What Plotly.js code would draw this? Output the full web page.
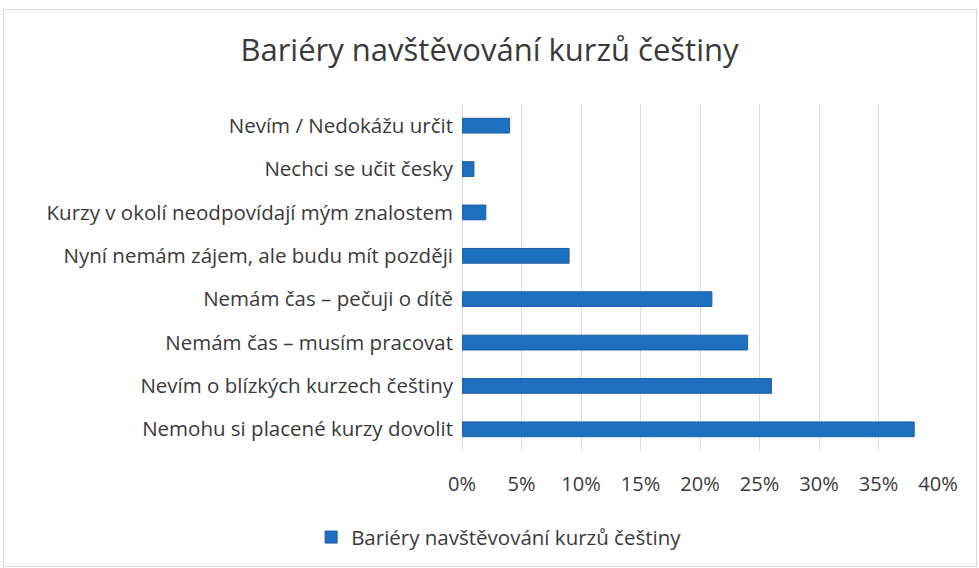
<!DOCTYPE html>
<html>
<head>
<meta charset="utf-8">
<script src="https://cdn.plot.ly/plotly-3.0.1.min.js"></script>
<style>
html,body{margin:0;padding:0;background:#fff;}
#wrap{position:relative;width:979px;height:568px;}
#chart{width:979px;height:568px;}
#frame{position:absolute;left:3px;top:9px;width:972px;height:556px;border:1px solid #d9d9d9;pointer-events:none;}
</style>
</head>
<body>
<div id="wrap"><div id="chart"></div><div id="frame"></div></div>
<script>
const chartTitle = "Bariéry navštěvování kurzů češtiny";
const seriesName = "Bariéry navštěvování kurzů češtiny";
// bottom to top
const categories = [
  "Nemohu si placené kurzy dovolit",
  "Nevím o blízkých kurzech češtiny",
  "Nemám čas – musím pracovat",
  "Nemám čas – pečuji o dítě",
  "Nyní nemám zájem, ale budu mít později",
  "Kurzy v okolí neodpovídají mým znalostem",
  "Nechci se učit česky",
  "Nevím / Nedokážu určit"
];
const values = [0.38, 0.26, 0.24, 0.21, 0.09, 0.02, 0.01, 0.04];
const tickVals = [0, 0.05, 0.10, 0.15, 0.20, 0.25, 0.30, 0.35, 0.40];
const tickText = ["0%", "5%", "10%", "15%", "20%", "25%", "30%", "35%", "40%"];

const font = "'Open Sans', 'Noto Sans', sans-serif";
const txt = "#3a3a3a";

const trace = {
  type: "bar",
  orientation: "h",
  y: categories,
  x: values,
  name: seriesName,
  marker: {color: "#1F6FBF", line: {color: "#1A5EA8", width: 1}},
  showlegend: true,
  hoverinfo: "x+y"
};

const layout = {
  width: 979, height: 568,
  margin: {l: 462, r: 41, t: 104, b: 116, pad: 0},
  paper_bgcolor: "#ffffff",
  plot_bgcolor: "#ffffff",
  font: {family: font, color: txt, size: 20},
  title: {
    text: chartTitle,
    font: {family: font, size: 31, color: txt},
    x: 0.5, xanchor: "center", xref: "container",
    y: 0.912, yanchor: "middle", yref: "container"
  },
  bargap: 0.66,
  xaxis: {
    range: [0, 0.40],
    tickvals: tickVals,
    ticktext: tickText,
    showgrid: true,
    gridcolor: "#dcdcdc",
    gridwidth: 1,
    zeroline: true,
    zerolinecolor: "#dcdcdc",
    showline: false,
    ticks: "",
    ticklabelstandoff: 19,
    tickfont: {family: font, size: 20, color: txt},
    fixedrange: true
  },
  yaxis: {
    type: "category",
    categoryorder: "array",
    categoryarray: categories,
    showgrid: false,
    zeroline: false,
    showline: false,
    ticks: "",
    ticklabelstandoff: 8,
    tickfont: {family: font, size: 20.5, color: txt},
    fixedrange: true
  },
  showlegend: true,
  legend: {
    orientation: "h",
    x: 0.078, xanchor: "center",
    y: -0.245, yanchor: "middle",
    font: {family: font, size: 20.5, color: txt},
    itemwidth: 30,
    bgcolor: "rgba(0,0,0,0)"
  }
};

Plotly.newPlot("chart", [trace], layout, {displayModeBar: false, staticPlot: true});
</script>
</body>
</html>
